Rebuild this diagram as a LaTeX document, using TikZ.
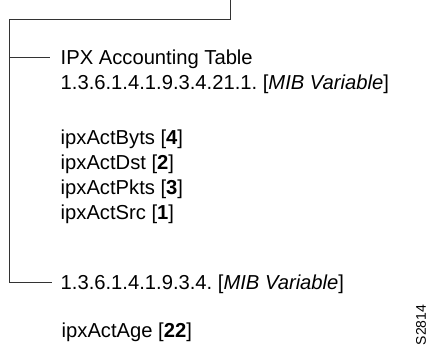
\documentclass[tikz,border=0pt]{standalone}
\usepackage{fontspec}
\setmainfont{Liberation Sans}
\frenchspacing
\begin{document}
\begin{tikzpicture}[x=1pt,y=-1pt,
  lbl/.style={font=\fontsize{20.2}{24}\selectfont, inner sep=0pt, anchor=base west, text height=14pt, text depth=0pt},
  tag/.style={font=\fontsize{14}{16}\selectfont, inner sep=0pt, rotate=90},
  wire/.style={draw=black!80, line width=1pt}]
\useasboundingbox (0,0) rectangle (429,348);
% text nodes
\node[lbl] (tbl)  at (60.5,64.5)  {IPX Accounting Table};
\node[lbl] (oid1) at (60.5,89.5)  {1.3.6.1.4.1.9.3.4.21.1. [\textit{MIB Variable}]};
\node[lbl] (v1)   at (60.5,144)   {ipxActByts [\textbf{4}]};
\node[lbl] (v2)   at (60.5,169)   {ipxActDst [\textbf{2}]};
\node[lbl] (v3)   at (60.5,194)   {ipxActPkts [\textbf{3}]};
\node[lbl] (v4)   at (60.5,219)   {ipxActSrc [\textbf{1}]};
\node[lbl] (oid2) at (60.5,289.5) {1.3.6.1.4.1.9.3.4. [\textit{MIB Variable}]};
\node[lbl] (age)  at (61.5,337)   {ipxActAge [\textbf{22}]};
\node[tag] (fig)  at (421,325)  {S2814};
% connector coordinates
\coordinate (top) at (230.5,0);
\coordinate (c1) at (230.5,19);
\coordinate (c2) at (9,19);
\coordinate (c3) at (9,282.5);
\coordinate (e1) at ([xshift=-10.5pt]tbl.west);
\coordinate (e2) at ([xshift=-8.5pt]oid2.west);
% connectors
\draw[wire] (top) -- (c1) -- (c2) -- (c3) -- (e2);
\draw[wire] (c2 |- e1) -- (e1);
\end{tikzpicture}
\end{document}
